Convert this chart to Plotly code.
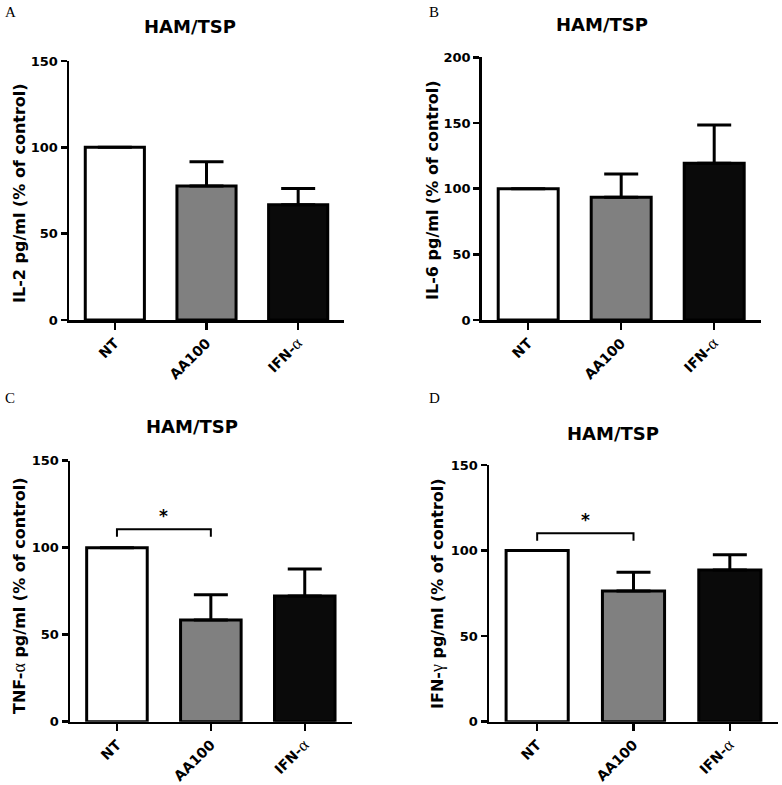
import plotly.graph_objects as go

W, H = 782, 785

# ---------------- data ----------------
categories = ["NT", "AA100", "IFN-α"]
il2_means = [100, 77.6, 66.8]
il2_err = [None, 14.1, 9.4]
il6_means = [100, 93.4, 119.3]
il6_err = [None, 17.8, 29.2]
tnf_means = [100, 58.4, 72.2]
tnf_err = [None, 14.6, 15.6]
ifng_means = [100, 76.4, 88.7]
ifng_err = [None, 10.9, 8.9]
y_ticks_150 = [0, 50, 100, 150]
y_ticks_200 = [0, 50, 100, 150, 200]
panel_letters = ["A", "B", "C", "D"]
panel_title = "HAM/TSP"
# significance bracket: (from category index, to category index, leg bottom, bar top, star y)
tnf_sig = (0, 1, 106.3, 110.6, 118)
ifng_sig = (0, 1, 105.8, 110.1, 118)

bar_colors = ["#ffffff", "#808080", "#0a0a0a"]

SERIF = "Liberation Serif, Times New Roman, serif"
SANS = "DejaVu Sans, Arial, sans-serif"


def greek_span(ch, size=None):
    extra = f";font-size:{size}px" if size else ""
    return f"<span style='font-family:{SERIF};font-weight:normal{extra}'>{ch}</span>"


tick_text = ["NT", "AA100", "IFN-" + greek_span("α", 17)]

panels = [
    dict(means=il2_means, err=il2_err, ymax=150, yticks=y_ticks_150,
         ytitle="IL-2 pg/ml (% of control)", sig=None,
         xdom=(69, 344), ydom=(320, 61), title_xy=(190, 27), ytitle_xy=(20, 193),
         letter_xy=(10, 12)),
    dict(means=il6_means, err=il6_err, ymax=200, yticks=y_ticks_200,
         ytitle="IL-6 pg/ml (% of control)", sig=None,
         xdom=(481.7, 760.7), ydom=(320, 57.3), title_xy=(601.7, 25), ytitle_xy=(433, 190),
         letter_xy=(434, 12)),
    dict(means=tnf_means, err=tnf_err, ymax=150, yticks=y_ticks_150,
         ytitle="TNF-" + greek_span("α", 18) + " pg/ml (% of control)", sig=tnf_sig,
         xdom=(70, 351.7), ydom=(721.7, 460.7), title_xy=(191.7, 426.7), ytitle_xy=(19, 596),
         letter_xy=(10, 398)),
    dict(means=ifng_means, err=ifng_err, ymax=150, yticks=y_ticks_150,
         ytitle="IFN-" + greek_span("γ", 18) + " pg/ml (% of control)", sig=ifng_sig,
         xdom=(489, 778), ydom=(721.7, 465), title_xy=(613.3, 433.3), ytitle_xy=(437, 594),
         letter_xy=(434, 398)),
]

fig = go.Figure()
annotations = []
shapes = []

for i, p in enumerate(panels):
    n = i + 1
    xa = "x" if n == 1 else f"x{n}"
    ya = "y" if n == 1 else f"y{n}"
    xkey = "xaxis" if n == 1 else f"xaxis{n}"
    ykey = "yaxis" if n == 1 else f"yaxis{n}"
    xs = list(range(len(categories)))
    fig.add_trace(go.Bar(
        x=xs, y=p["means"], xaxis=xa, yaxis=ya, width=0.645,
        marker=dict(color=bar_colors, line=dict(color="black", width=3)),
        error_y=dict(type="data", array=p["err"], arrayminus=[0] * len(xs),
                     symmetric=False, color="black", thickness=3, width=17),
        showlegend=False, hoverinfo="skip",
    ))
    fig.update_layout({
        xkey: dict(domain=[p["xdom"][0] / W, p["xdom"][1] / W], anchor=ya,
                   range=[-0.5, 2.5], tickvals=xs, ticktext=tick_text,
                   tickangle=-45, showline=True, linecolor="black", linewidth=2.5,
                   ticks="outside", ticklen=7, tickwidth=2.5, tickcolor="black",
                   showgrid=False, zeroline=False, fixedrange=True, automargin=False,
                   tickfont=dict(family=SANS, size=14, color="black", weight="bold")),
        ykey: dict(domain=[1 - p["ydom"][0] / H, 1 - p["ydom"][1] / H], anchor=xa,
                   range=[0, p["ymax"]], tickvals=p["yticks"],
                   showline=True, linecolor="black", linewidth=2.5,
                   ticks="outside", ticklen=6, tickwidth=2.5, tickcolor="black",
                   showgrid=False, zeroline=False, fixedrange=True, automargin=False,
                   tickfont=dict(family=SANS, size=13, color="black", weight="bold")),
    })
    # title
    annotations.append(dict(text=panel_title, x=p["title_xy"][0] / W, y=1 - p["title_xy"][1] / H,
                            xref="paper", yref="paper", showarrow=False,
                            xanchor="center", yanchor="middle",
                            font=dict(family=SANS, size=18, color="black", weight="bold")))
    # y title
    annotations.append(dict(text=p["ytitle"], x=p["ytitle_xy"][0] / W, y=1 - p["ytitle_xy"][1] / H,
                            xref="paper", yref="paper", showarrow=False, textangle=-90,
                            xanchor="center", yanchor="middle",
                            font=dict(family=SANS, size=16, color="black", weight="bold")))
    # panel letter
    annotations.append(dict(text=panel_letters[i], x=p["letter_xy"][0] / W, y=1 - p["letter_xy"][1] / H,
                            xref="paper", yref="paper", showarrow=False,
                            xanchor="center", yanchor="middle",
                            font=dict(family=SERIF, size=15, color="black")))
    # significance
    if p["sig"] is not None:
        a, b, lo, hi, sy = p["sig"]
        shapes.append(dict(type="path", xref=xa, yref=ya,
                           path=f"M {a} {lo} L {a} {hi} L {b} {hi} L {b} {lo}",
                           line=dict(color="black", width=2)))
        annotations.append(dict(text="*", x=(a + b) / 2, y=sy, xref=xa, yref=ya,
                                showarrow=False, xanchor="center", yanchor="middle",
                                font=dict(family=SANS, size=17, color="black", weight="bold")))

fig.update_layout(width=W, height=H, margin=dict(l=0, r=0, t=0, b=0, autoexpand=False),
                  paper_bgcolor="white", plot_bgcolor="white",
                  annotations=annotations, shapes=shapes, bargap=0, showlegend=False)

fig.write_html("out.html", config={"displayModeBar": False, "staticPlot": True},
               post_script="document.body.style.margin='0px';document.body.style.overflow='hidden';")
